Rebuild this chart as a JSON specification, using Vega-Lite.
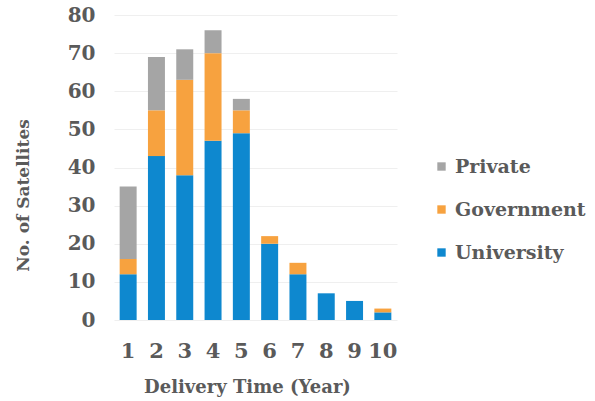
{
  "$schema": "https://vega.github.io/schema/vega-lite/v6.json",
  "width": 283,
  "height": 305,
  "autosize": "none",
  "padding": {"left": 114, "top": 15, "right": 198, "bottom": 81},
  "background": "white",
  "data": {
    "values": [
      {"year": 1, "type": "University", "count": 12},
      {"year": 1, "type": "Government", "count": 4},
      {"year": 1, "type": "Private", "count": 19},
      {"year": 2, "type": "University", "count": 43},
      {"year": 2, "type": "Government", "count": 12},
      {"year": 2, "type": "Private", "count": 14},
      {"year": 3, "type": "University", "count": 38},
      {"year": 3, "type": "Government", "count": 25},
      {"year": 3, "type": "Private", "count": 8},
      {"year": 4, "type": "University", "count": 47},
      {"year": 4, "type": "Government", "count": 23},
      {"year": 4, "type": "Private", "count": 6},
      {"year": 5, "type": "University", "count": 49},
      {"year": 5, "type": "Government", "count": 6},
      {"year": 5, "type": "Private", "count": 3},
      {"year": 6, "type": "University", "count": 20},
      {"year": 6, "type": "Government", "count": 2},
      {"year": 7, "type": "University", "count": 12},
      {"year": 7, "type": "Government", "count": 3},
      {"year": 8, "type": "University", "count": 7},
      {"year": 9, "type": "University", "count": 5},
      {"year": 10, "type": "University", "count": 2},
      {"year": 10, "type": "Government", "count": 1}
    ]
  },
  "transform": [
    {"calculate": "indexof(['University','Government','Private'], datum.type)", "as": "stackOrder"}
  ],
  "mark": {"type": "bar"},
  "encoding": {
    "x": {
      "field": "year",
      "type": "ordinal",
      "scale": {"paddingInner": 0.4, "paddingOuter": 0.2},
      "axis": {
        "title": "Delivery Time (Year)",
        "labelAngle": 0,
        "labelFont": "DejaVu Serif",
        "labelFontWeight": "bold",
        "labelFontSize": 21,
        "labelColor": "#5a5a5a",
        "labelPadding": 20,
        "titleFont": "DejaVu Serif",
        "titleFontWeight": "bold",
        "titleFontSize": 18,
        "titleColor": "#5a5a5a",
        "titlePadding": 17,
        "titleX": 133,
        "domain": false,
        "ticks": false
      }
    },
    "y": {
      "field": "count",
      "type": "quantitative",
      "scale": {"domain": [0, 80], "nice": false},
      "axis": {
        "title": "No. of Satellites",
        "values": [0, 10, 20, 30, 40, 50, 60, 70, 80],
        "labelFont": "DejaVu Serif",
        "labelFontWeight": "bold",
        "labelFontSize": 20,
        "labelColor": "#5a5a5a",
        "labelPadding": 19,
        "titleFont": "DejaVu Serif",
        "titleFontWeight": "bold",
        "titleFontSize": 17,
        "titleColor": "#5a5a5a",
        "titleX": -91,
        "titleY": 180,
        "titleBaseline": "middle",
        "domain": false,
        "ticks": false,
        "grid": true,
        "gridColor": "#EFEFEF",
        "gridWidth": 1
      }
    },
    "order": {"field": "stackOrder", "type": "quantitative", "sort": "ascending"},
    "color": {
      "field": "type",
      "type": "nominal",
      "sort": ["Private", "Government", "University"],
      "scale": {
        "domain": ["Private", "Government", "University"],
        "range": ["#A5A5A5", "#F7A23F", "#0E88CF"]
      },
      "legend": {
        "title": null,
        "orient": "none",
        "legendX": 318,
        "legendY": 142,
        "symbolType": "square",
        "symbolSize": 70,
        "rowPadding": 23,
        "labelFont": "DejaVu Serif",
        "labelFontWeight": "bold",
        "labelFontSize": 19,
        "labelColor": "#5a5a5a",
        "labelOffset": 4
      }
    }
  },
  "config": {"view": {"stroke": null}}
}
